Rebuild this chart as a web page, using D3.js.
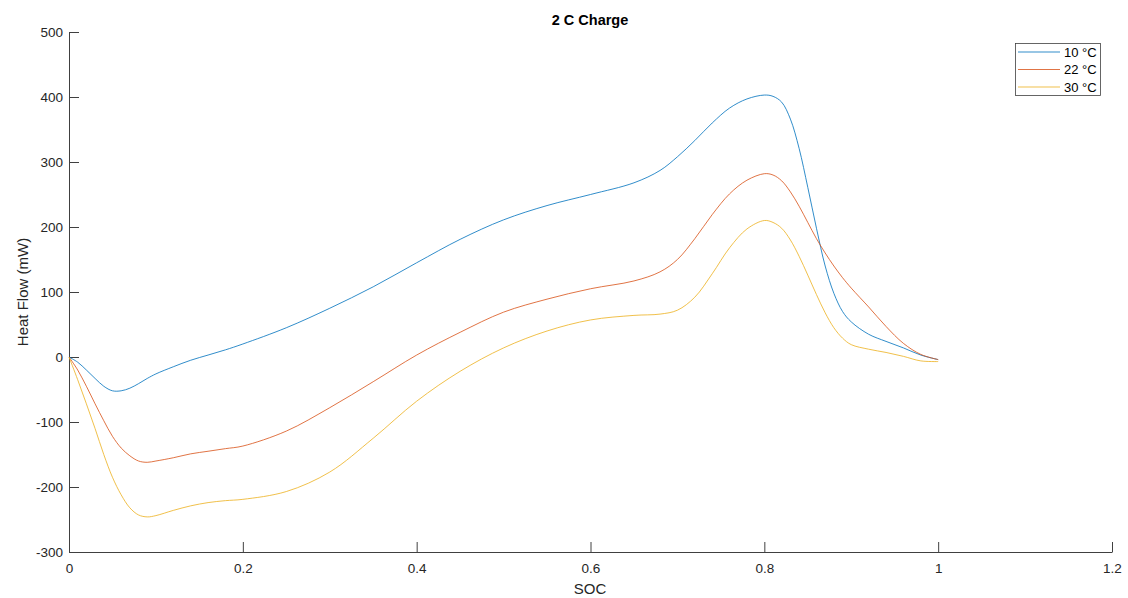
<!DOCTYPE html>
<html><head><meta charset="utf-8">
<script src="https://cdn.jsdelivr.net/npm/d3@7"></script>
<style>
body{margin:0;background:#fff;}
svg{display:block;font-family:"Liberation Sans",Arial,Helvetica,sans-serif;}
</style></head>
<body><svg id="c" width="1128" height="598"></svg>
<script>
const soc = [0,0.01,0.02,0.03,0.04,0.05,0.06,0.07,0.08,0.09,0.1,0.12,0.14,0.16,0.18,0.2,0.25,0.3,0.35,0.4,0.45,0.5,0.55,0.6,0.65,0.68,0.7,0.72,0.74,0.76,0.78,0.8,0.81,0.82,0.83,0.84,0.85,0.86,0.87,0.88,0.89,0.9,0.92,0.94,0.96,0.98,1.0];
const heat10 = [0,-8,-20,-33,-45,-52,-52,-48,-41,-33,-26,-15,-5,3,11,20,45,75,108,145,181,211,233,250,268,287,308,333,360,383,397,403,401,392,366,321,261,198,140,98,70,54,35,24,14,3,-4];
const heat22 = [0,-20,-45,-72,-98,-122,-140,-152,-160,-162,-160,-155,-149,-145,-141,-137,-114,-78,-38,3,38,69,89,105,117,131,150,182,219,251,272,282,280,271,254,232,207,182,160,140,122,106,77,47,21,4,-4];
const heat30 = [0,-35,-72,-110,-150,-185,-212,-232,-243,-246,-244,-236,-229,-224,-221,-219,-207,-177,-125,-68,-22,14,40,57,64,66,72,92,128,168,197,210,207,198,180,155,126,96,68,45,29,19,12,7,1,-6,-7];
const seriesNames = ["10 °C","22 °C","30 °C"];
const colors = ["#0072BD","#D95319","#EDB120"];
const xTicks = [0,0.2,0.4,0.6,0.8,1,1.2];
const yTicks = [-300,-200,-100,0,100,200,300,400,500];
const title = "2 C Charge", xLabel = "SOC", yLabel = "Heat Flow (mW)";

const svg = d3.select("#c");
const L=69, R=1112, T=32, B=552;
const x = d3.scaleLinear().domain([0,1.2]).range([L,R]);
const y = d3.scaleLinear().domain([-300,500]).range([B,T]);
const axisColor = "#404040";
const fmt = d => String(d);

const xa = svg.append("g").attr("transform",`translate(0,${B})`)
  .call(d3.axisBottom(x).tickValues(xTicks).tickFormat(fmt).tickSizeInner(-10).tickSizeOuter(0).tickPadding(7));
const ya = svg.append("g").attr("transform",`translate(${L},0)`)
  .call(d3.axisLeft(y).tickValues(yTicks).tickFormat(fmt).tickSizeInner(-10).tickSizeOuter(0).tickPadding(6));
[xa,ya].forEach(a=>{
  a.select(".domain").attr("stroke",axisColor);
  a.selectAll(".tick line").attr("stroke",axisColor);
  a.selectAll(".tick text").attr("fill","#262626").attr("font-size",13.5).attr("font-family","Liberation Sans, Arial, sans-serif");
});
xa.selectAll(".tick text").attr("dy","1.0em");
ya.selectAll(".tick text").attr("x",-6);

const data = [heat10,heat22,heat30];
const line = d3.line().x((d,i)=>x(soc[i])).y(d=>y(d)).curve(d3.curveCatmullRom.alpha(0.5));
data.forEach((s,k)=>{
  svg.append("path").datum(s).attr("d",line).attr("fill","none")
    .attr("stroke",colors[k]).attr("stroke-width",0.9).attr("stroke-opacity",0.9);
});

svg.append("text").attr("x",590).attr("y",25).attr("text-anchor","middle")
  .attr("font-size",14.5).attr("font-weight","bold").attr("fill","#000").text(title);
svg.append("text").attr("x",590).attr("y",594).attr("text-anchor","middle")
  .attr("font-size",15).attr("fill","#262626").text(xLabel);
svg.append("text").attr("transform","translate(28,292) rotate(-90)").attr("text-anchor","middle")
  .attr("font-size",15).attr("fill","#262626").text(yLabel);

// legend
const lg = svg.append("g");
lg.append("rect").attr("x",1015.5).attr("y",43.5).attr("width",85).attr("height",52)
  .attr("fill","#fff").attr("stroke","#404040").attr("stroke-width",0.8);
seriesNames.forEach((n,k)=>{
  const yy = 52+k*17.5;
  lg.append("line").attr("x1",1018).attr("x2",1060).attr("y1",yy).attr("y2",yy)
    .attr("stroke",colors[k]).attr("stroke-width",0.9).attr("stroke-opacity",0.9);
  lg.append("text").attr("x",1064).attr("y",yy+4.5).attr("font-size",13).attr("fill","#000").text(n);
});
</script></body></html>
